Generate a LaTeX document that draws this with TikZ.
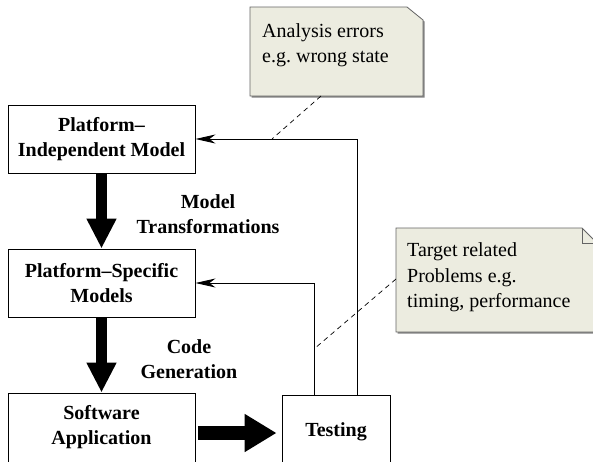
\documentclass[tikz,border=0pt]{standalone}
\usepackage{fontspec}
\setmainfont{Liberation Serif}
\usetikzlibrary{arrows.meta,calc}
\definecolor{notefill}{RGB}{236,236,224}
\definecolor{noteline}{RGB}{100,100,100}
\definecolor{noteshadow}{RGB}{130,130,130}
\begin{document}
\begin{tikzpicture}[x=1pt,y=-1pt,
  box/.style={draw=black, line width=0.9pt, fill=white, align=center,
    font=\fontsize{20}{25}\selectfont\bfseries, inner sep=0pt},
  lbl/.style={align=center, font=\fontsize{20}{25}\selectfont\bfseries, inner sep=0pt},
  notetext/.style={align=left, font=\fontsize{20}{25.5}\selectfont, inner sep=0pt, anchor=west},
  notebody/.style={fill=notefill, draw=noteline, line width=0.8pt},
  noteshade/.style={fill=noteshadow},
  bigarrow/.style={line width=11pt, -{Triangle[length=30pt,width=28pt]}},
  bigarrowh/.style={line width=14pt, -{Triangle[length=32pt,width=36pt]}},
  feedback/.style={line width=0.9pt, -{Stealth[length=20pt,width=9pt,inset=6pt]}},
  hint/.style={line width=0.7pt, dash pattern=on 5pt off 4pt},
]
\useasboundingbox (0,0) rectangle (593,461);
\clip (0,0) rectangle (593,461);

% Process boxes
\node[box, minimum width=187pt, minimum height=68pt] (pim) at (101.5,139)
  {Platform--\\Independent Model};
\node[box, minimum width=187pt, minimum height=68pt] (psm) at (101.5,283)
  {Platform--Specific\\Models};
\node[box, minimum width=187pt, minimum height=69pt] (sa) at (101.5,427.5)
  {Software\\Application};
\node[box, minimum width=108pt, minimum height=74pt] (test) at (336,432)
  {Testing};

% Main flow
\draw[bigarrow] (pim.south) -- (psm.north);
\draw[bigarrow] (psm.south) -- (sa.north);
\draw[bigarrowh] ($(sa.east)+(3,5.5)$) -- ($(test.west)+(-5,1)$);

\node[lbl] (mt) at (208,214.5) {Model\\Transformations};
\node[lbl] (cg) at (189,359.5) {Code\\Generation};

% Feedback from testing
\coordinate (ka) at (314,283);
\coordinate (kb) at (357,139);
\draw[feedback] (test.north -| ka) |- (psm.east);
\draw[feedback] (test.north -| kb) |- (pim.east);

% Note: analysis errors
\fill[noteshade] (251.5,8.5) -- (408.5,8.5) -- (424.5,21.5) -- (424.5,97.5) -- (251.5,97.5) -- cycle;
\path[notebody] (250,7) -- (407,7) -- (423,20) -- (423,96) -- (250,96) -- cycle;
\node[notetext] (n1) at (262,45) {Analysis errors\\e.g.\ wrong state};

% Note: target related problems
\fill[noteshade] (397.5,229.5) -- (583.5,229.5) -- (598.5,244.5) -- (598.5,333.5) -- (397.5,333.5) -- cycle;
\path[notebody] (396,228) -- (582,228) -- (597,243) -- (597,332) -- (396,332) -- cycle;
\draw[noteline, line width=0.8pt] (582,228) -- (582,243) -- (597,243);
\node[notetext] (n2) at (407,277.5) {Target related\\Problems e.g.\\timing, performance};

% Note connectors
\coordinate (n1foot) at (321,96);
\coordinate (d1) at (272,139);
\draw[hint] (n1foot) -- (d1);
\coordinate (n2foot) at (396,279);
\coordinate (d2) at (314,349);
\draw[hint] (n2foot) -- (d2);
\end{tikzpicture}
\end{document}
